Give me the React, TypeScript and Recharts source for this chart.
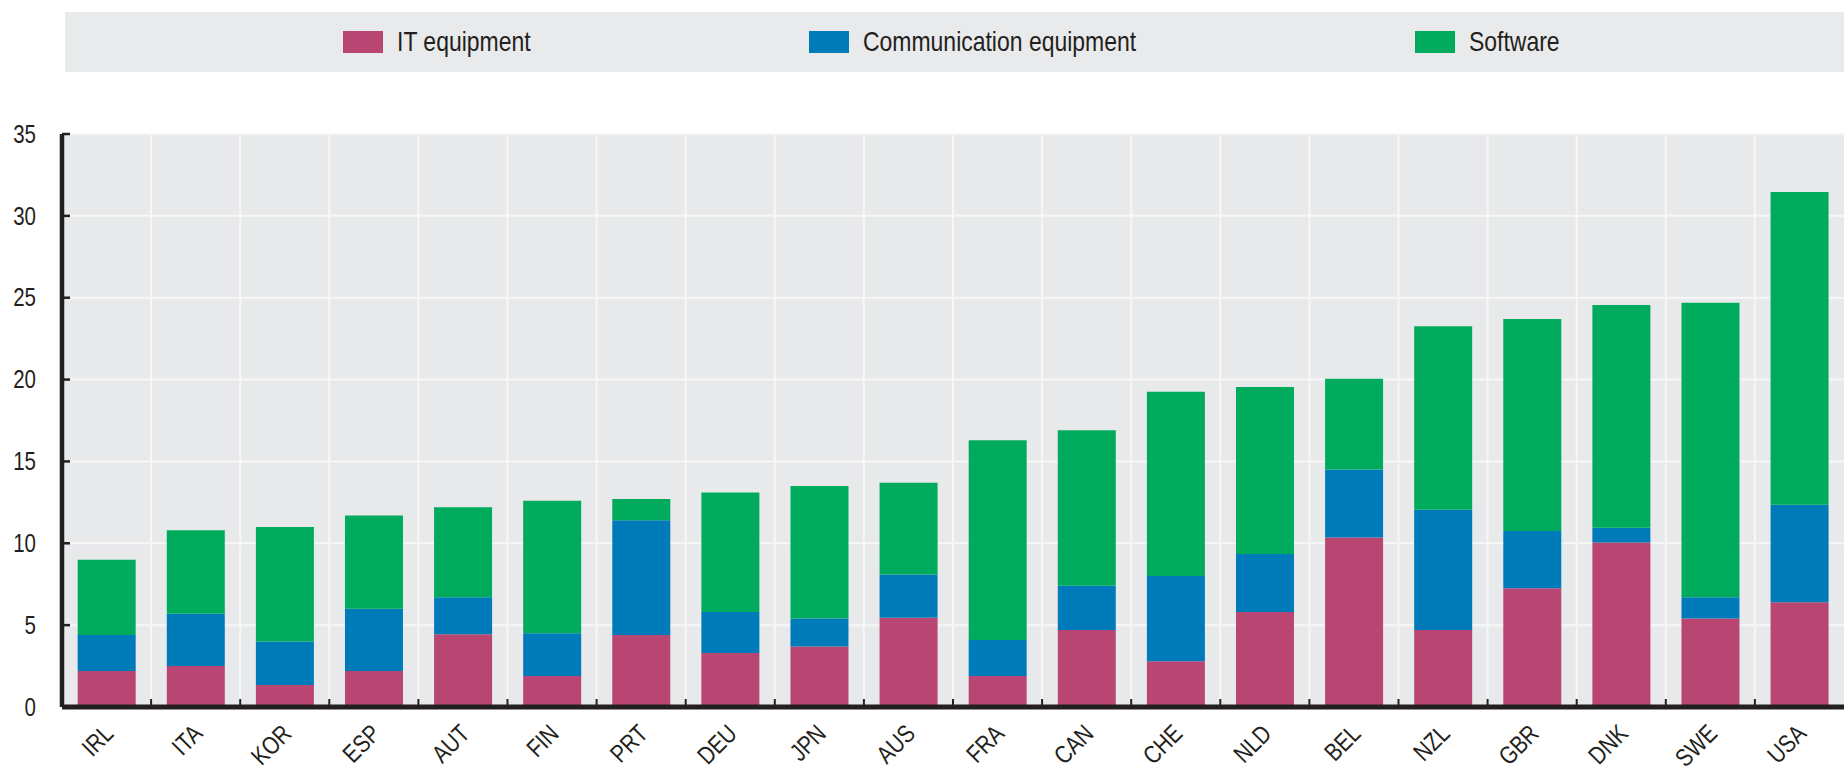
import { BarChart, Bar, XAxis, YAxis, CartesianGrid, Legend } from "recharts";

// ICT investment by asset, share of non-residential GFCF
const countries = [
  "IRL", "ITA", "KOR", "ESP", "AUT", "FIN", "PRT", "DEU", "JPN", "AUS",
  "FRA", "CAN", "CHE", "NLD", "BEL", "NZL", "GBR", "DNK", "SWE", "USA",
];
const itEquipment = [
  2.2, 2.5, 1.35, 2.2, 4.45, 1.9, 4.4, 3.3, 3.7, 5.45,
  1.9, 4.7, 2.8, 5.8, 10.35, 4.7, 7.25, 10.05, 5.4, 6.4,
];
const commEquipment = [
  2.2, 3.2, 2.65, 3.8, 2.25, 2.6, 7.0, 2.5, 1.7, 2.65,
  2.2, 2.7, 5.2, 3.55, 4.15, 7.35, 3.5, 0.9, 1.3, 5.95,
];
const software = [
  4.6, 5.1, 7.0, 5.7, 5.5, 8.1, 1.3, 7.3, 8.1, 5.6,
  12.2, 9.5, 11.25, 10.2, 5.55, 11.2, 12.95, 13.6, 18.0, 19.1,
];
const yTicks = [0, 5, 10, 15, 20, 25, 30, 35];
const seriesOrder = ["it", "comm", "sw"];

const data = countries.map((country, i) => ({
  country,
  it: itEquipment[i],
  comm: commEquipment[i],
  sw: software[i],
}));

const W = 1844;
const H = 770;
const PLOT_LEFT = 62;
const STEP = (W - PLOT_LEFT) / countries.length;
const FONT = "'Liberation Sans Narrow', 'Arial Narrow', 'Liberation Sans', Arial, sans-serif";
const NARROW = 0.82; // no narrow face installed, squeeze the regular one
const INK = "#231f20";
const LEGEND_LEFT = [278, 744, 1350];

function CountryTick({ x, y, payload }: any) {
  const edge = x - STEP / 2;
  const ly = y + 22;
  return (
    <g>
      <line x1={edge} x2={edge} y1={y - 2} y2={y - 8} stroke={INK} strokeWidth={2} />
      <text
        x={0}
        y={0}
        dy="0.35em"
        textAnchor="end"
        transform={`translate(${x + 2} ${ly}) rotate(-45) scale(${NARROW} 1)`}
        fontSize={25}
        fontFamily={FONT}
        fill={INK}
      >
        {payload.value}
      </text>
    </g>
  );
}

function ValueTick({ x, y, payload }: any) {
  return (
    <text
      x={0}
      y={0}
      dy="0.35em"
      textAnchor="end"
      transform={`translate(${x} ${y}) scale(${NARROW} 1)`}
      fontSize={25}
      fontFamily={FONT}
      fill={INK}
    >
      {payload.value}
    </text>
  );
}

function LegendBox({ payload }: any) {
  const items = (payload || [])
    .slice()
    .sort((a: any, b: any) => seriesOrder.indexOf(a.dataKey) - seriesOrder.indexOf(b.dataKey));
  return (
    <div style={{ position: "relative", height: 60, background: "#e9eaec" }}>
      {items.map((entry: any, i: number) => (
        <div
          key={entry.value}
          style={{
            position: "absolute",
            left: LEGEND_LEFT[i],
            top: 0,
            height: 60,
            display: "flex",
            alignItems: "center",
            fontFamily: FONT,
            fontSize: 28,
            color: INK,
            whiteSpace: "nowrap",
          }}
        >
          <span style={{ width: 40, height: 22, background: entry.color, marginRight: 14 }} />
          <span style={{ display: "inline-block", transform: `scaleX(${NARROW})`, transformOrigin: "left center" }}>
            {entry.value}
          </span>
        </div>
      ))}
    </div>
  );
}

export default function App() {
  return (
    <div style={{ position: "absolute", left: 0, top: 0, fontFamily: FONT, background: "#fff" }}>
      <BarChart
        width={W}
        height={H}
        data={data}
        barCategoryGap="17.6%"
        margin={{ top: 74, right: 0, left: 2, bottom: 0 }}
      >
        <CartesianGrid
          fill="#e8e9eb"
          stroke="#f7f7f7"
          strokeWidth={2}
          verticalCoordinatesGenerator={({ offset }: any) =>
            countries.slice(1).map((_, i) => offset.left + ((i + 1) * offset.width) / countries.length)
          }
        />
        <XAxis
          dataKey="country"
          height={63}
          interval={0}
          tickSize={0}
          tickMargin={0}
          tickLine={false}
          axisLine={{ stroke: INK, strokeWidth: 5 }}
          tick={<CountryTick />}
        />
        <YAxis
          width={60}
          domain={[0, 35]}
          ticks={yTicks}
          interval={0}
          tickSize={-8}
          tickMargin={34}
          axisLine={{ stroke: INK, strokeWidth: 4.5 }}
          tickLine={{ stroke: INK, strokeWidth: 2.5 }}
          tick={<ValueTick />}
        />
        <Legend
          verticalAlign="top"
          wrapperStyle={{ top: 12, left: 65, width: W - 65, height: 60 }}
          content={<LegendBox />}
        />
        <Bar dataKey="it" name="IT equipment" stackId="a" fill="#b94573" isAnimationActive={false} />
        <Bar dataKey="comm" name="Communication equipment" stackId="a" fill="#007bb9" isAnimationActive={false} />
        <Bar dataKey="sw" name="Software" stackId="a" fill="#00ab5d" isAnimationActive={false} />
      </BarChart>
    </div>
  );
}
